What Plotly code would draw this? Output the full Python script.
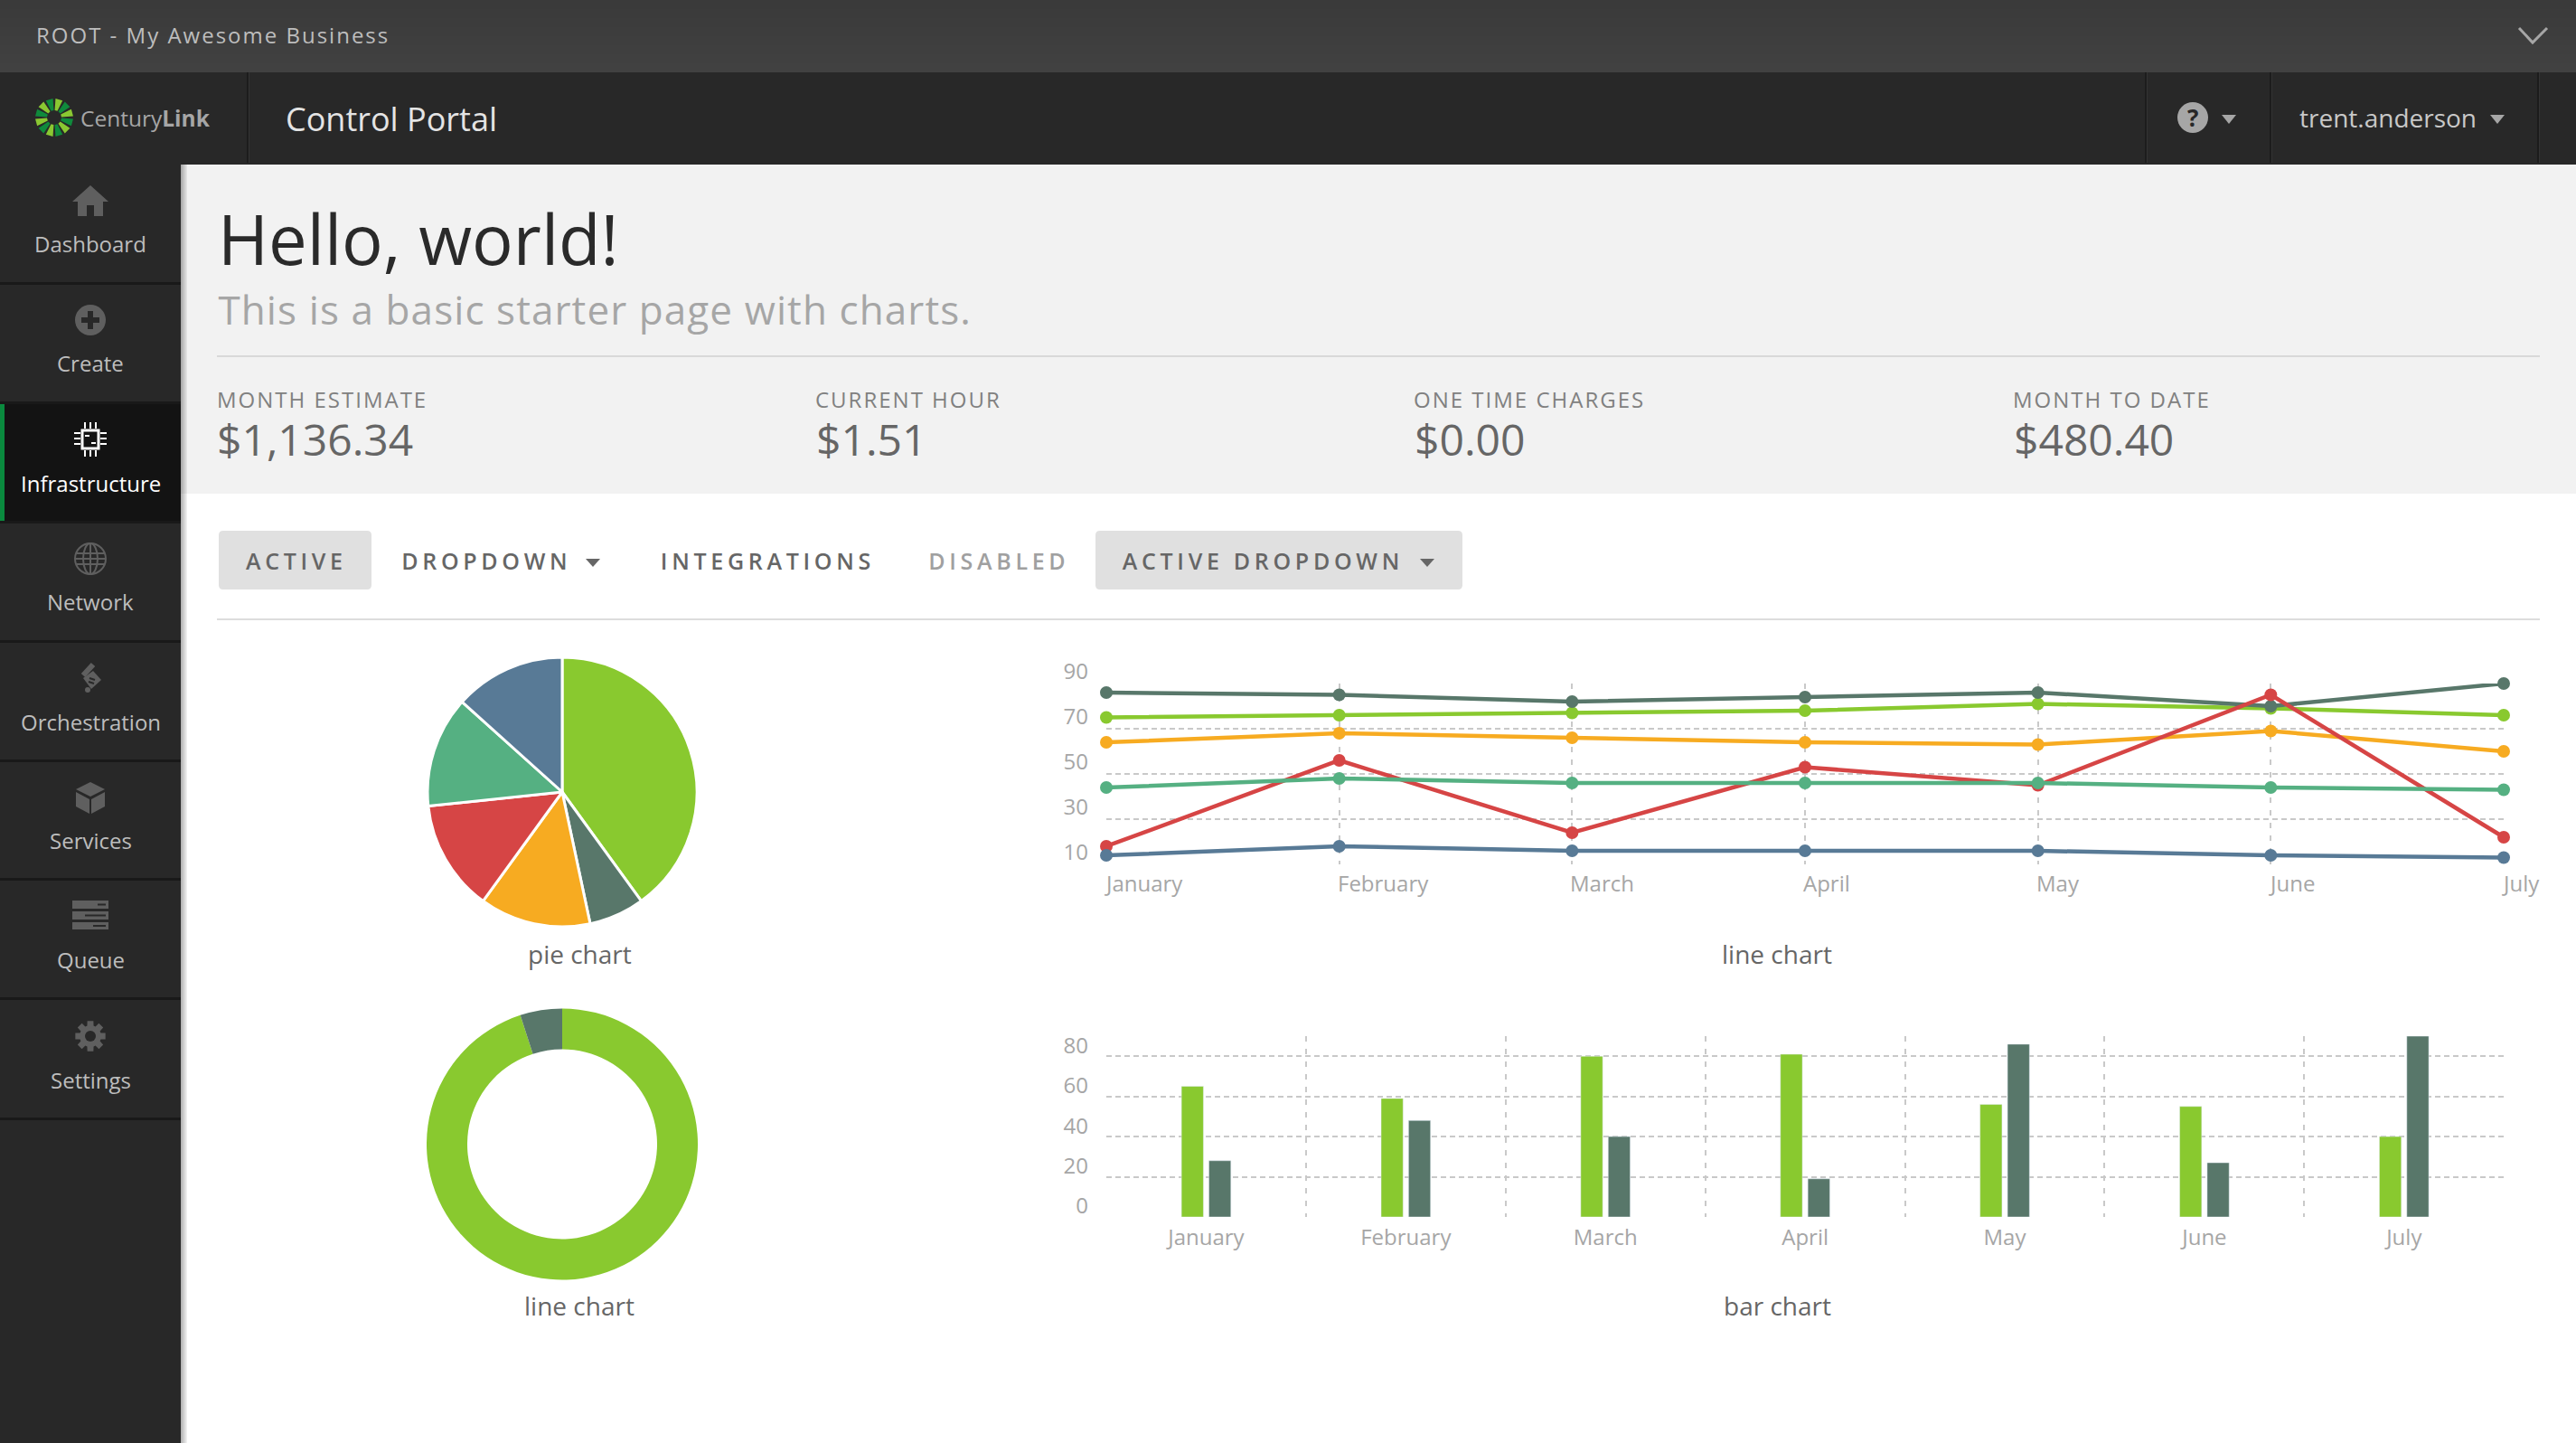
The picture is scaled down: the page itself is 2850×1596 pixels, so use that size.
import math
import plotly.graph_objects as go

W = 2850
H = 1596

months = ["January", "February", "March", "April", "May", "June", "July"]

# line chart values
line_orange = [64, 68, 66, 64, 63, 69, 60]
line_green = [75, 76, 77, 78, 81, 79, 76]
line_dark = [86, 85, 82, 84, 86, 80, 90]
line_red = [18, 56, 24, 53, 45, 85, 22]
line_teal = [44, 48, 46, 46, 46, 44, 43]
line_blue = [14, 18, 16, 16, 16, 14, 13]
line_ticks = [10, 30, 50, 70, 90]

# bar chart values
bar_green = [65, 59, 80, 81, 56, 55, 40]
bar_dark = [28, 48, 40, 19, 86, 27, 90]
bar_ticks = [0, 20, 40, 60, 80]

# pie + donut
pie_values = [30, 5, 10, 10, 10, 10]
donut_values = [95, 5]

GREEN = "#89c92f"
DARK = "#58776a"
ORANGE = "#f7ab21"
RED = "#d64545"
TEAL = "#55b082"
BLUE = "#587a96"
GRID = "#c9c9c9"
TICK = "#a6a6a6"
ICON = "#5f5f5f"
FONT = "Open Sans"

fig = go.Figure()

shapes = []
notes = []


def rect(x0, y0, x1, y1, color):
    shapes.append(dict(type="rect", xref="x", yref="y", x0=x0, y0=y0, x1=x1, y1=y1,
                       fillcolor=color, line_width=0, layer="below"))


def poly(points, color):
    d = "M" + " L".join(f"{a},{b}" for a, b in points) + " Z"
    shapes.append(dict(type="path", xref="x", yref="y", path=d, fillcolor=color,
                       line_width=0, layer="below"))


def stroke(d, color, width):
    shapes.append(dict(type="path", xref="x", yref="y", path=d, line=dict(color=color, width=width),
                       layer="below"))


def circle(cx, cy, r, fill=None, line=None, width=0):
    shapes.append(dict(type="circle", xref="x", yref="y", x0=cx - r, x1=cx + r, y0=cy - r, y1=cy + r,
                       fillcolor=fill or "rgba(0,0,0,0)", line=dict(color=line or "rgba(0,0,0,0)", width=width),
                       layer="below"))


def rounded(x0, y0, x1, y1, r, color):
    d = (f"M{x0 + r},{y0} L{x1 - r},{y0} Q{x1},{y0} {x1},{y0 + r} L{x1},{y1 - r} Q{x1},{y1} {x1 - r},{y1} "
         f"L{x0 + r},{y1} Q{x0},{y1} {x0},{y1 - r} L{x0},{y0 + r} Q{x0},{y0} {x0 + r},{y0} Z")
    shapes.append(dict(type="path", xref="x", yref="y", path=d, fillcolor=color, line_width=0, layer="below"))


def text(s, x, y, size, color, anchor="center", weight=None):
    notes.append(dict(text=s, x=x, y=y, xref="x", yref="y", showarrow=False, xanchor=anchor, yanchor="middle",
                      font=dict(family=FONT, size=size, color=color, weight=weight)))


# page chrome
for i in range(8):
    g = 0x3a + i
    rect(0, i * 10, W, 80, f"rgb({g},{g},{g})")
rect(0, 80, W, 182, "#282828")
rect(0, 182, 200, H, "#282828")
rect(200, 182, W, 546, "#f2f2f2")
for i in range(7):
    a = 0.3 - i * 0.04
    rect(200 + i, 182, 201 + i, H, f"rgba(0,0,0,{a:.2f})")

# header dividers
for x in [274, 2374, 2512, 2808]:
    rect(x - 1, 80, x + 1, 180, "#1c1c1c")
    rect(x + 1, 80, x + 2, 180, "#333333")

# logo
for i in range(12):
    a0 = math.radians(i * 30 - 90 + 4)
    a1 = math.radians(i * 30 - 60 - 4)
    c = "#8ac832" if i % 2 == 0 else "#0f8a3c"
    poly([(60 + 8 * math.cos(a0), 130 + 8 * math.sin(a0)), (60 + 21 * math.cos(a0), 130 + 21 * math.sin(a0)),
          (60 + 21 * math.cos(a1), 130 + 21 * math.sin(a1)), (60 + 8 * math.cos(a1), 130 + 8 * math.sin(a1))], c)

text("ROOT - My Awesome Business", 235, 38, 24, "#bdbdbd")
text("Century<b>Link</b>", 161, 130, 24.5, "#a6a6a6")
text("Control Portal", 433, 131, 36, "#e4e4e4")
text("trent.anderson", 2642, 130, 28, "#c8c8c8")
circle(2426, 130, 17, fill="#a6a6a6")
text("<b>?</b>", 2426, 130, 26, "#282828")
for cx, cy in [(2466, 132), (2763, 132)]:
    poly([(cx - 8, cy - 5), (cx + 8, cy - 5), (cx, cy + 5)], "#a6a6a6")
stroke("M2787,31 L2802,47 L2818,31", "#a6a6a6", 3)

# sidebar
nav_labels = ["Dashboard", "Create", "Infrastructure", "Network", "Orchestration", "Services", "Queue", "Settings"]
nav_y = [269, 401, 534, 665, 798, 929, 1061, 1194]
rect(0, 445, 200, 577, "#131313")
rect(0, 446, 5, 576, "#0a8a3e")
for y in [313, 445, 577, 709, 841, 972, 1104, 1237]:
    rect(0, y - 1, 200, y + 2, "#191919")
for lab, y in zip(nav_labels, nav_y):
    text(lab, 100, y, 24, "#ffffff" if lab == "Infrastructure" else "#bdbdbd")

# home
poly([(100, 205), (120, 223), (114, 223), (114, 239), (104, 239), (104, 227), (96, 227), (96, 239),
      (86, 239), (86, 223), (80, 223)], ICON)
# create
circle(100, 354, 17, fill=ICON)
rect(90, 351, 110, 357, "#282828")
rect(97, 344, 103, 364, "#282828")
# chip
stroke("M91,476 L109,476 L109,496 L91,496 Z", "#ffffff", 3)
for off in [-6, 0, 6]:
    rect(82, 485 + off - 1, 89, 485 + off + 1, "#ffffff")
    rect(111, 485 + off - 1, 118, 485 + off + 1, "#ffffff")
    rect(100 + off - 1, 467, 100 + off + 1, 474, "#ffffff")
    rect(100 + off - 1, 498, 100 + off + 1, 505, "#ffffff")
rect(94, 481, 99, 483, "#ffffff")
rect(101, 489, 106, 491, "#ffffff")
# globe
circle(100, 618, 17, line=ICON, width=2)
shapes.append(dict(type="circle", xref="x", yref="y", x0=92, x1=108, y0=601, y1=635, line=dict(color=ICON, width=2),
                   layer="below"))
for y, half in [(612, 15), (618, 17), (624, 15)]:
    rect(100 - half, y - 1, 100 + half, y + 1, ICON)
rect(99, 601, 101, 635, ICON)
# orchestration
stroke("M103,735 L92,747", ICON, 6)
poly([(103, 742), (112, 752), (101, 762), (92, 750)], ICON)
stroke("M99,750 L105,752 M98,754 L104,756", "#282828", 2)
circle(97, 763, 3, fill=ICON)
# services
poly([(100, 865), (116, 873), (100, 881), (84, 873)], ICON)
poly([(84, 876), (99, 884), (99, 900), (84, 892)], ICON)
poly([(101, 884), (116, 876), (116, 892), (101, 900)], ICON)
# queue
for y0, y1, slot in [(996, 1005, 108), (1008, 1017, 94), (1020, 1028, 103)]:
    rect(80, y0, 120, y1, ICON)
    rect(slot, (y0 + y1) / 2 - 1, 117, (y0 + y1) / 2 + 1, "#282828")
# settings
gear = []
for i in range(8):
    a = i * math.pi / 4
    for da, r in [(-0.3, 12), (-0.2, 17), (0.2, 17), (0.3, 12)]:
        gear.append((100 + r * math.cos(a + da), 1146 + r * math.sin(a + da)))
poly(gear, ICON)
circle(100, 1146, 6, fill="#282828")

# heading block
text("Hello, world!", 239, 263, 76, "#2a2a2a", anchor="left")
text("This is a basic starter page with charts.", 658, 342, 44, "#a6a6a6")
rect(240, 393, 2810, 395, "#d9d9d9")

stat_labels = ["MONTH ESTIMATE", "CURRENT HOUR", "ONE TIME CHARGES", "MONTH TO DATE"]
stat_centers = [356, 1005, 1692, 2336]
stat_lefts = [240, 903, 1565, 2228]
stat_values = ["$1,136.34", "$1.51", "$0.00", "$480.40"]
for lab, c, left, val in zip(stat_labels, stat_centers, stat_lefts, stat_values):
    text(lab, c, 441, 24, "#808080")
    text(val, left - 2, 485, 48, "#666666", anchor="left")

# tabs
rounded(242, 587, 411, 652, 5, "#e0e0e0")
rounded(1212, 587, 1618, 652, 5, "#e0e0e0")
for lab, c, col in [("ACTIVE", 328, "#666666"), ("DROPDOWN", 538, "#666666"), ("INTEGRATIONS", 849, "#666666"),
                    ("DISABLED", 1105, "#a0a0a0"), ("ACTIVE DROPDOWN", 1397, "#666666")]:
    text(lab, c, 620, 25, col, weight=600)
for cx in [656, 1579]:
    poly([(cx - 8, 618), (cx + 8, 618), (cx, 627)], "#666666")
rect(240, 684, 2810, 686, "#dddddd")

# chart captions
for lab, x, y in [("pie chart", 641, 1055), ("line chart", 641, 1444), ("line chart", 1966, 1055), ("bar chart", 1966, 1444)]:
    text(lab, x, y, 28, "#666666")

# pie + donut
fig.add_trace(go.Pie(values=pie_values, sort=False, direction="clockwise", textinfo="none", hoverinfo="percent",
                     marker=dict(colors=[GREEN, DARK, ORANGE, RED, TEAL, BLUE], line=dict(color="#ffffff", width=3)),
                     domain=dict(x=[473 / W, 771 / W], y=[1 - 1025 / H, 1 - 727 / H])))
fig.add_trace(go.Pie(values=donut_values, sort=False, direction="clockwise", textinfo="none", hoverinfo="percent", hole=0.7,
                     marker=dict(colors=[GREEN, DARK], line=dict(width=0)),
                     domain=dict(x=[472 / W, 772 / W], y=[1 - 1416 / H, 1 - 1115 / H])))

# line chart
for vals, col in [(line_orange, ORANGE), (line_green, GREEN), (line_dark, DARK), (line_red, RED),
                  (line_teal, TEAL), (line_blue, BLUE)]:
    fig.add_trace(go.Scatter(x=months, y=vals, mode="lines+markers", xaxis="x2", yaxis="y2", cliponaxis=False,
                             line=dict(color=col, width=4.5), marker=dict(color=col, size=14)))
for m in months:
    notes.append(dict(text=m, x=m, y=1 - 977 / H, xref="x2", yref="paper", showarrow=False, xanchor="left",
                      yanchor="middle", xshift=-4, font=dict(family=FONT, size=24, color=TICK)))

# bar chart
fig.add_trace(go.Bar(x=months, y=bar_green, marker_color=GREEN, xaxis="x3", yaxis="y3"))
fig.add_trace(go.Bar(x=months, y=bar_dark, marker_color=DARK, xaxis="x3", yaxis="y3"))

fig.update_layout(
    width=W, height=H, autosize=False,
    margin=dict(l=0, r=0, t=0, b=0, autoexpand=False),
    paper_bgcolor="#ffffff", plot_bgcolor="rgba(0,0,0,0)",
    showlegend=False,
    barmode="group", bargap=0.725, bargroupgap=0.2,
    font=dict(family=FONT),
    shapes=shapes, annotations=notes,
    # pixel frame for the page chrome
    xaxis=dict(domain=[0, 1], range=[0, W], visible=False, fixedrange=True),
    yaxis=dict(domain=[0, 1], range=[H, 0], visible=False, fixedrange=True),
    xaxis2=dict(domain=[1224 / W, 2770 / W], anchor="y2", range=[0, 6], type="category", categoryarray=months,
                showticklabels=False, ticks="", showgrid=True, gridcolor=GRID, gridwidth=2, griddash="6px,8px",
                zeroline=False, showline=False),
    yaxis2=dict(domain=[1 - 956 / H, 1 - 756 / H], anchor="x2", range=[10, 90], tickvals=line_ticks,
                tickfont=dict(family=FONT, size=24, color=TICK), showgrid=True, gridcolor=GRID, gridwidth=2,
                griddash="6px,4px", zeroline=False, showline=False, ticks="", ticklabelstandoff=19, ticklabelshift=-13),
    xaxis3=dict(domain=[1224 / W, 2770 / W], anchor="y3", range=[-0.5, 6.499], type="category", categoryarray=months,
                tickson="boundaries", ticks="", tickfont=dict(family=FONT, size=24, color=TICK), showgrid=True,
                gridcolor=GRID, gridwidth=2, griddash="6px,8px", zeroline=False, showline=False, ticklabelstandoff=6),
    yaxis3=dict(domain=[1 - 1346 / H, 1 - 1146 / H], anchor="x3", range=[0, 90], tickvals=bar_ticks,
                tickfont=dict(family=FONT, size=24, color=TICK), showgrid=True, gridcolor=GRID, gridwidth=2,
                griddash="6px,4px", zeroline=False, showline=False, ticks="", ticklabelstandoff=19, ticklabelshift=-12),
)

# plotly has no letter spacing option, so set it on the finished text
post = """
document.body.style.margin = '0';
document.body.style.overflow = 'hidden';
var spacing = {'ACTIVE': 4.7, 'DROPDOWN': 4.7, 'INTEGRATIONS': 4.7, 'DISABLED': 4.7, 'ACTIVE DROPDOWN': 4.7,
  'MONTH ESTIMATE': 2, 'CURRENT HOUR': 2, 'ONE TIME CHARGES': 2, 'MONTH TO DATE': 2,
  'ROOT - My Awesome Business': 2, 'This is a basic starter page with charts.': 1.1};
document.querySelectorAll('.annotation-text').forEach(function (t) {
  var s = spacing[t.textContent];
  if (s) { t.style.letterSpacing = s + 'px'; }
});
"""
fig.write_html("out.html", post_script=post, config=dict(displayModeBar=False))
